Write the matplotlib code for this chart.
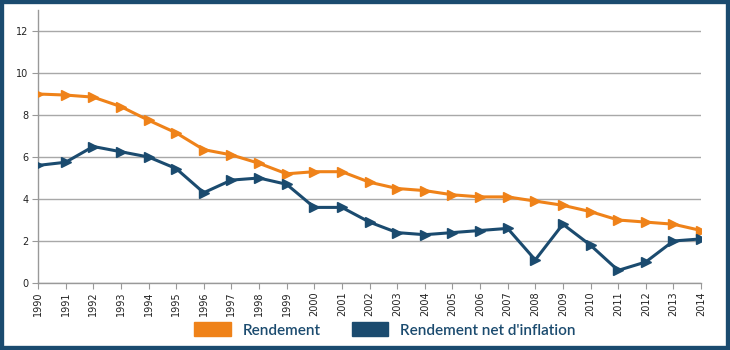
import matplotlib
matplotlib.use("Agg")
import matplotlib.pyplot as plt
from matplotlib.patches import Rectangle

years = list(range(1990, 2015))
rendement = [9.0, 8.95, 8.85, 8.4, 7.75, 7.15, 6.35, 6.1, 5.7, 5.2, 5.3, 5.3, 4.8,
             4.5, 4.4, 4.2, 4.1, 4.1, 3.9, 3.7, 3.4, 3.0, 2.9, 2.8, 2.5]
rendement_net = [5.6, 5.75, 6.5, 6.25, 6.0, 5.45, 4.3, 4.9, 5.0, 4.7, 3.6, 3.6, 2.9,
                 2.4, 2.3, 2.4, 2.5, 2.6, 1.1, 2.8, 1.8, 0.6, 1.0, 2.0, 2.1]
y_ticks = [0, 2, 4, 6, 8, 10, 12]
labels = ["Rendement", "Rendement net d'inflation"]

ORANGE = "#ef8219"
BLUE = "#1b4b6f"

fig = plt.figure(figsize=(7.3, 3.5), dpi=100)
W, H = 730, 350
ax = fig.add_axes([38 / W, 1 - 283 / H, (701 - 38) / W, (283 - 10) / H])

ax.plot(years, rendement, color=ORANGE, lw=2.2, marker=">", ms=7, mec=ORANGE, zorder=3)
ax.plot(years, rendement_net, color=BLUE, lw=2.2, marker=">", ms=7, mec=BLUE, zorder=3)

ax.set_xlim(1990, 2014)
ax.set_ylim(0, 13)
ax.set_yticks(y_ticks)
ax.set_xticks(years)
ax.set_xticklabels([str(y) for y in years], rotation=90, fontsize=7, family="DejaVu Sans",
                   color="#222222")
ax.tick_params(axis="y", labelsize=7, length=4, color="#999999", pad=3, labelcolor="#222222")
ax.tick_params(axis="x", length=4, color="#999999", pad=2)
ax.grid(axis="y", color="#a8a8a8", lw=1)
ax.set_axisbelow(True)
for s in ["top", "right"]:
    ax.spines[s].set_visible(False)
for s in ["left", "bottom"]:
    ax.spines[s].set_color("#999999")
    ax.spines[s].set_linewidth(1)

# legend
handles = [Rectangle((0, 0), 1, 1, color=ORANGE), Rectangle((0, 0), 1, 1, color=BLUE)]
fig.legend(handles, labels, loc="center", bbox_to_anchor=(385 / W, 1 - 330 / H), ncol=2,
           frameon=False, handlelength=2.4, handleheight=1.0, columnspacing=2.0,
           prop={"family": "Lato", "size": 11, "weight": "semibold"}, labelcolor=BLUE,
           handletextpad=0.8)

# border
fig.patches.append(Rectangle((0, 0), 1, 1, transform=fig.transFigure, fill=False,
                             edgecolor=BLUE, lw=6, zorder=10))

fig.savefig("out.png", dpi=100)
